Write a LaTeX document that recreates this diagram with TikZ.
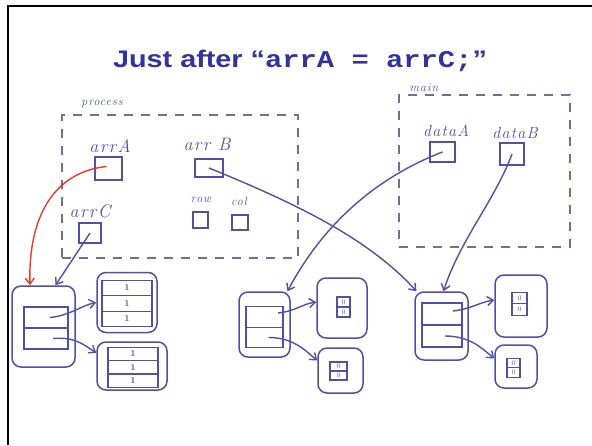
\documentclass[tikz,border=0pt]{standalone}
\usepackage{fontspec}
\usetikzlibrary{arrows.meta}
\newfontfamily\titlesans{Liberation Sans}
\newfontfamily\titlemono{Liberation Mono}
\newfontfamily\handfont[LetterSpace=8]{Latin Modern Roman}
\definecolor{pen}{RGB}{80,80,168}
\definecolor{redpen}{RGB}{226,62,42}
\definecolor{titleblue}{RGB}{51,51,153}
\definecolor{dashpen}{RGB}{112,112,150}

\begin{document}
\begin{tikzpicture}[x=1pt,y=-1pt,
  frame/.style={draw=dashpen, dash pattern=on 9pt off 8pt, line width=1.2pt, inner sep=0pt},
  hand/.style={text=pen, font=\handfont\itshape\fontsize{18}{18}\selectfont, inner sep=0pt},
  midhand/.style={hand, font=\handfont\itshape\fontsize{16}{16}\selectfont},
  smallhand/.style={hand, font=\handfont\itshape\fontsize{12}{12}\selectfont},
  varbox/.style={draw=pen, line width=1.4pt, inner sep=0pt},
  objbox/.style={draw=pen, line width=1.5pt, rounded corners=9pt, inner sep=0pt},
  cell/.style={draw=pen, line width=1.4pt, inner sep=0pt, text=pen, font=\bfseries\fontsize{9}{9}\selectfont},
  tinycell/.style={cell, line width=1.1pt, font=\fontsize{7}{7}\selectfont},
  link/.style={draw=pen, line width=1.4pt, -{Straight Barb[length=6pt,width=9pt]}},
  redlink/.style={link, draw=redpen},
]
\useasboundingbox (0,0) rectangle (592,445);
\fill[white] (0,0) rectangle (592,445);
\draw[line width=2.5pt] (8,445) -- (8,6) -- (592,6);

% heading
\node[anchor=base, text=titleblue, xscale=1.2, inner sep=0pt] (title) at (300,67)
  {\fontsize{24}{24}\selectfont\titlesans\bfseries Just after “{\titlemono\bfseries arrA = arrC;}”};

% stack frame of process
\node[frame, minimum width=236pt, minimum height=143pt] (process) at (180,186.5) {};
\node[smallhand] (processlbl) at (102,104) {process};
\node[hand] (arrAlbl) at (110,146) {arrA};
\node[varbox, minimum width=27pt, minimum height=23pt] (arrA) at (108.5,168.5) {};
\node[hand] (arrBlbl) at (207,144) {arr B};
\node[varbox, minimum width=28pt, minimum height=18pt] (arrB) at (209,168) {};
\node[hand] (arrClbl) at (90,211) {arrC};
\node[varbox, minimum width=22pt, minimum height=20pt] (arrC) at (90,233) {};
\node[smallhand] (rowlbl) at (201,200) {row};
\node[varbox, minimum width=15pt, minimum height=16pt] (row) at (200.5,220) {};
\node[smallhand] (collbl) at (239,201) {col};
\node[varbox, minimum width=16pt, minimum height=15pt] (col) at (240,222.5) {};

% stack frame of main
\node[frame, minimum width=171pt, minimum height=152pt] (main) at (484.5,171) {};
\node[smallhand] (mainlbl) at (424,88) {main};
\node[midhand] (dataAlbl) at (446,131) {dataA};
\node[varbox, minimum width=25pt, minimum height=20pt] (dataA) at (442.5,152) {};
\node[midhand] (dataBlbl) at (515,133) {dataB};
\node[varbox, minimum width=24pt, minimum height=22pt] (dataB) at (512,154) {};

% array of rows held by arrC
\node[objbox, minimum width=63pt, minimum height=81pt] (obj1) at (43.5,326.5) {};
\node[cell, minimum width=44pt, minimum height=21pt] (c1a) at (46,317.5) {};
\node[cell, minimum width=44pt, minimum height=21pt] (c1b) at (46,338.5) {};
\node[objbox, minimum width=60pt, minimum height=60pt] (tr1) at (127,302.5) {};
\node[cell, minimum width=50pt, minimum height=15.5pt] (t1a) at (127,288) {1};
\node[cell, minimum width=50pt, minimum height=15.5pt] (t1b) at (127,303.5) {1};
\node[cell, minimum width=50pt, minimum height=15.5pt] (t1c) at (127,319) {1};
\node[objbox, minimum width=70pt, minimum height=48pt] (br1) at (132,366) {};
\node[cell, minimum width=50pt, minimum height=13.3pt] (b1a) at (133,354) {1};
\node[cell, minimum width=50pt, minimum height=13.3pt] (b1b) at (133,367.3) {1};
\node[cell, minimum width=50pt, minimum height=13.3pt] (b1c) at (133,380.6) {1};

% array of rows held by dataA
\node[objbox, minimum width=51pt, minimum height=65pt] (obj2) at (264.5,324.5) {};
\node[cell, minimum width=37pt, minimum height=20.5pt] (o2a) at (264.5,317) {};
\node[cell, minimum width=37pt, minimum height=20.5pt] (o2b) at (264.5,337.5) {};
\node[objbox, minimum width=50pt, minimum height=60pt] (tr2) at (342,308) {};
\node[tinycell, minimum width=13pt, minimum height=10pt] (t2a) at (343.5,302) {0};
\node[tinycell, minimum width=13pt, minimum height=10pt] (t2b) at (343.5,312) {0};
\node[objbox, minimum width=45pt, minimum height=45pt] (br2) at (340.5,370.5) {};
\node[tinycell, minimum width=17pt, minimum height=9pt] (b2a) at (338.5,366.5) {0};
\node[tinycell, minimum width=17pt, minimum height=9pt] (b2b) at (338.5,375.5) {0};

% array of rows held by arrB and dataB
\node[objbox, minimum width=53pt, minimum height=68pt] (obj3) at (441.5,326) {};
\node[cell, minimum width=40pt, minimum height=22pt] (o3a) at (442,314) {};
\node[cell, minimum width=40pt, minimum height=22pt] (o3b) at (442,336) {};
\node[objbox, minimum width=52pt, minimum height=62pt] (tr3) at (521,306) {};
\node[tinycell, minimum width=15pt, minimum height=11.5pt] (t3a) at (519.5,298) {0};
\node[tinycell, minimum width=15pt, minimum height=11.5pt] (t3b) at (519.5,309.5) {0};
\node[objbox, minimum width=42pt, minimum height=43pt] (br3) at (516,366.5) {};
\node[tinycell, minimum width=13pt, minimum height=9.5pt] (b3a) at (513.5,363) {0};
\node[tinycell, minimum width=13pt, minimum height=9.5pt] (b3b) at (513.5,372.5) {0};

% references from variables
\draw[redlink] ([xshift=-2pt,yshift=2pt]arrA.center) .. controls (55,172) and (28,215) .. ([xshift=-13.5pt]obj1.north);
\draw[link] (arrC.center) -- ([xshift=12pt]obj1.north);
\draw[link] (arrB.center) .. controls (300,205) and (370,240) .. ([xshift=-25pt]obj3.north);
\draw[link] (dataA.center) .. controls (370,180) and (320,230) .. ([xshift=23pt]obj2.north);
\draw[link] (dataB.center) .. controls (495,200) and (460,240) .. ([xshift=2pt]obj3.north);

% references from row cells
\draw[link] ([xshift=4pt]c1a.center) .. controls +(20,-2) and +(-15,3) .. (tr1.west);
\draw[link] ([xshift=7pt]c1b.center) .. controls +(22,-2) and +(-12,-8) .. ([yshift=13pt]br1.west);
\draw[link] ([xshift=13.5pt,yshift=4pt]o2a.center) .. controls +(18,-2) and +(-14,2) .. ([yshift=6pt]tr2.west);
\draw[link] ([xshift=4pt]o2b.center) .. controls +(25,0) and +(-12,-10) .. ([yshift=10pt]br2.west);
\draw[link] ([xshift=11pt,yshift=3pt]o3a.center) .. controls +(18,-2) and +(-14,2) .. ([yshift=6pt]tr3.west);
\draw[link] ([xshift=3pt]o3b.center) .. controls +(25,0) and +(-12,-10) .. ([yshift=8pt]br3.west);
\end{tikzpicture}
\end{document}
